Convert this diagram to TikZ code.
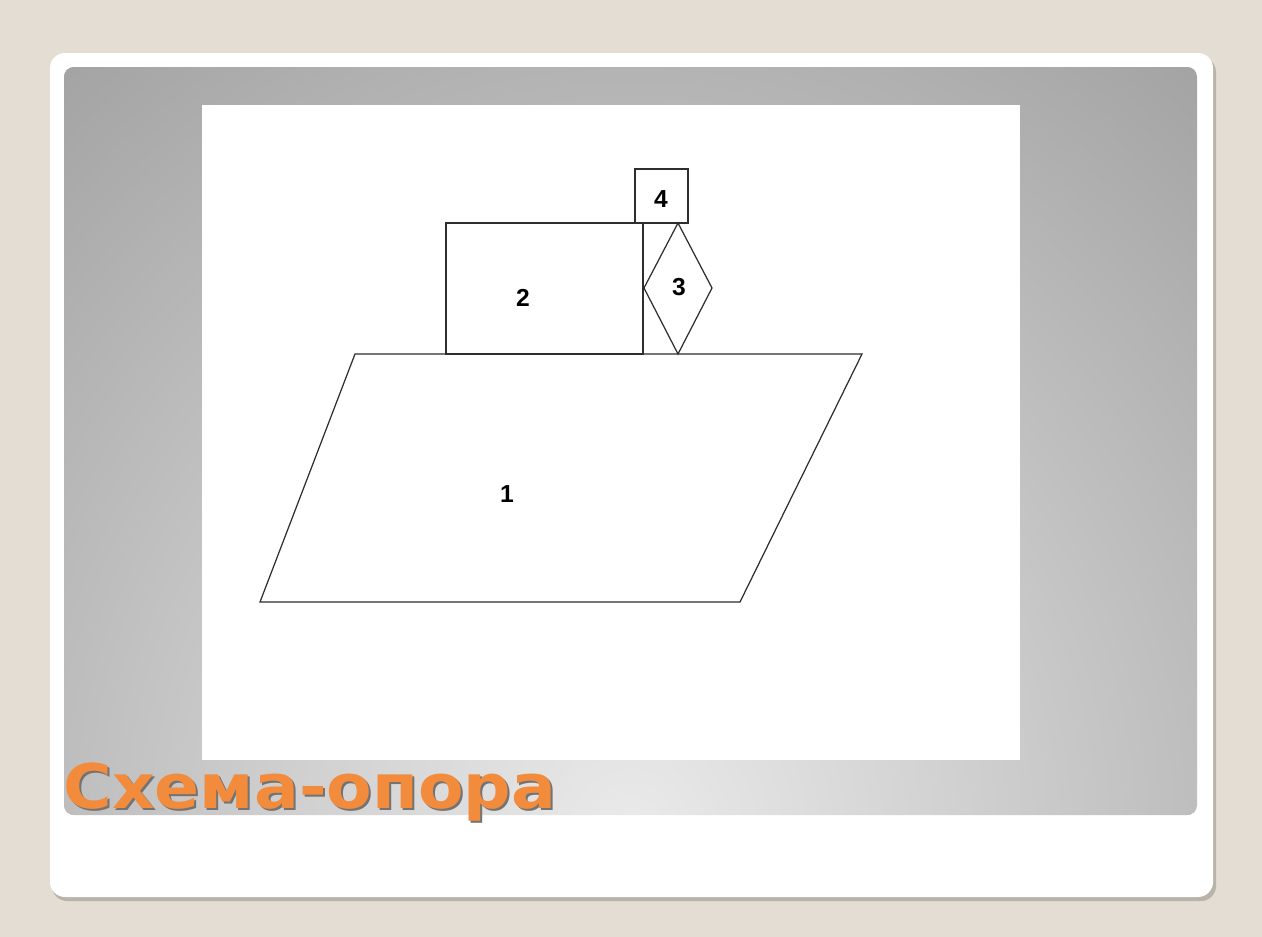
\documentclass[tikz,border=0pt]{standalone}
\usepackage{fontspec}
\setmainfont{Liberation Sans}
\newfontfamily\titlefont{DejaVu Sans}
\usetikzlibrary{positioning}

\definecolor{beige}{HTML}{E3DDD3}
\definecolor{cardshadow}{HTML}{B9B4AA}
\definecolor{titleorange}{HTML}{F28B3C}
\definecolor{lineink}{HTML}{2E2E2E}

\newcommand{\slidetitle}{\scalebox{1.08}[1]{Схема-опора}}

\begin{document}
\begin{tikzpicture}[
  x=0.02cm, y=-0.02cm,
  part/.style={draw=lineink, line width=0.7pt, line join=miter},
  num/.style={font=\fontsize{14}{16}\selectfont\bfseries, text=black, inner sep=0pt},
  heading/.style={font=\titlefont\bfseries\fontsize{35}{40}\selectfont, inner sep=0pt, anchor=base west}
]
% slide background
\fill[beige] (0,0) rectangle (1262,937);
\useasboundingbox (0,0) rectangle (1262,937);
\fill[cardshadow, rounded corners=0.3cm] (52,57) rectangle (1216,901);
\fill[white, rounded corners=0.3cm] (50,53) rectangle (1213,897);
\begin{scope}
  \clip[rounded corners=0.2cm] (64,67) rectangle (1197,815);
  \fill[gray!70] (64,67) rectangle (1197,815);
  \shade[inner color=black!8, outer color=black!36] (630,840) ellipse (900 and 1000);
\end{scope}
\fill[white] (202,105) rectangle (1020,760);

% the scheme
\coordinate (p1) at (355,354);
\coordinate (p2) at (862,354);
\coordinate (p3) at (740,602);
\coordinate (p4) at (260,602);
\draw[part] (p1) -- (p2) -- (p3) -- (p4) -- cycle;
\node[num] (one) at (507,494) {1};

\draw[part] (446,354) rectangle (643,223);
\node[num] (two) at (523,298) {2};

\coordinate (dtop) at (678,223);
\coordinate (dleft) at (644,288);
\coordinate (dbot) at (678,354);
\coordinate (dright) at (712,288);
\draw[part] (dtop) -- (dright) -- (dbot) -- (dleft) -- cycle;
\node[num] (three) at (679,287) {3};

\draw[part] (635,169) rectangle (688,223);
\node[num] (four) at (661,199) {4};

% title
\node[heading, text=black!55] (titleshade) at (65,810) {\slidetitle};
\node[heading, text=titleorange] (title) at (63,808) {\slidetitle};
\end{tikzpicture}
\end{document}
